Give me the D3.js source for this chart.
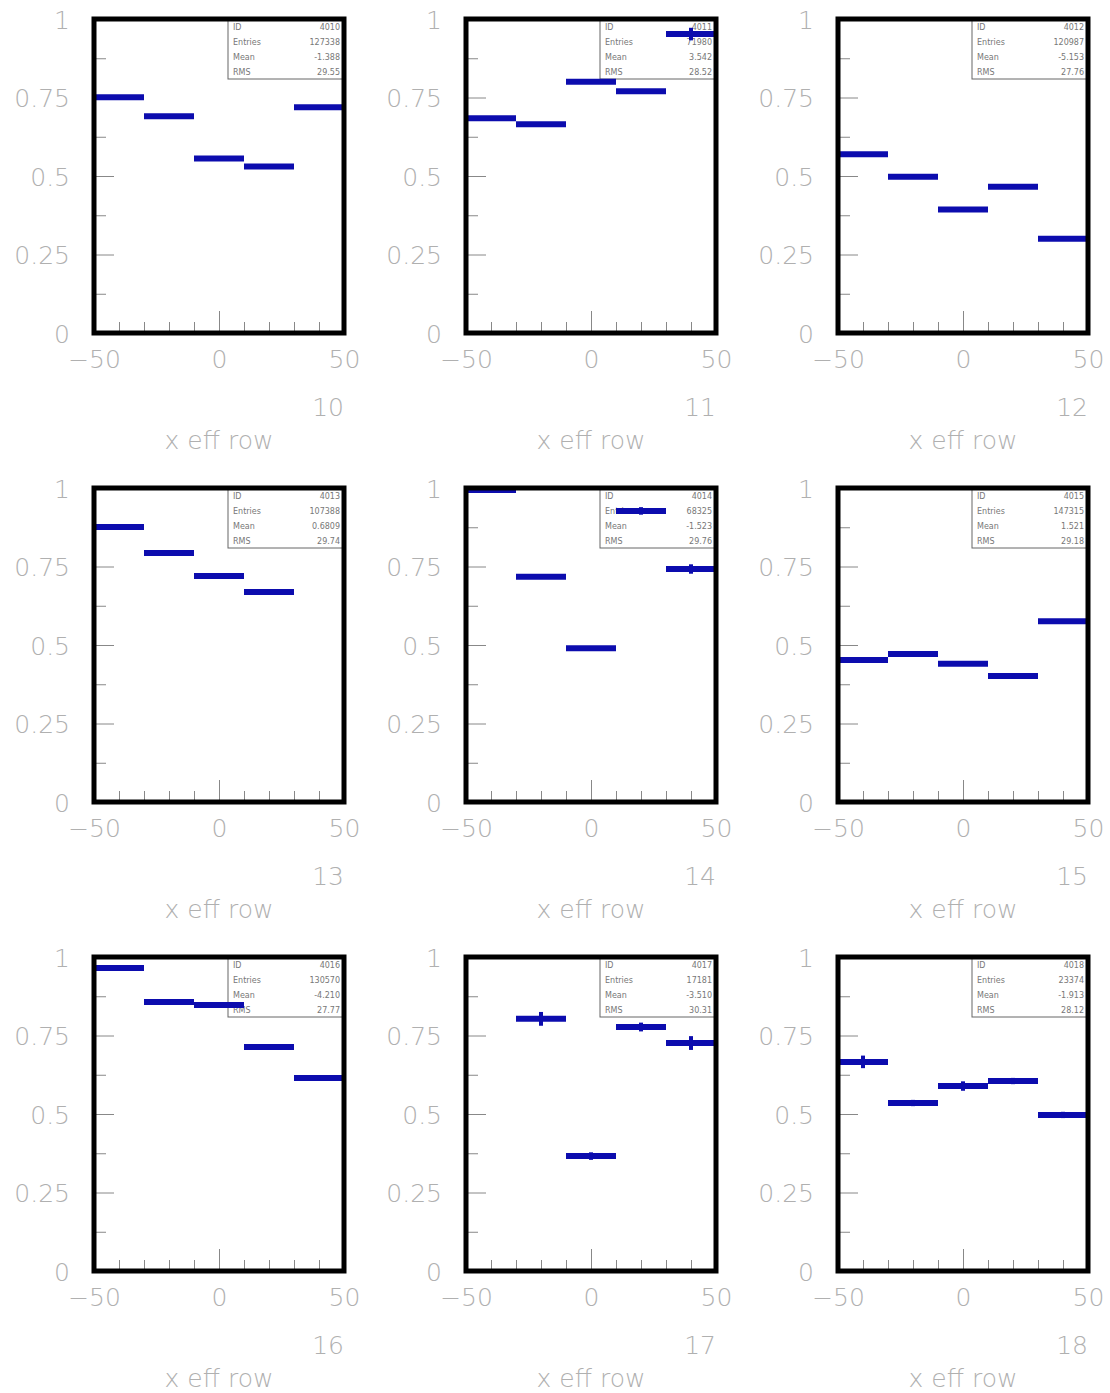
<!DOCTYPE html>
<html>
<head>
<meta charset="utf-8">
<script src="https://cdn.jsdelivr.net/npm/d3@7"></script>
<style>
    body { margin: 0; background: #fff; }
    .lbl { font-family: 'DejaVu Sans', sans-serif; font-weight: 200; fill: #b0b0b0; }
    .stat { font-family: 'DejaVu Sans', sans-serif; font-size: 8px; fill: #777; }
</style>
</head>
<body>
<script>
(function(){

// DATA

    const panelIds = ['10', '11', '12', '13', '14', '15', '16', '17', '18'];
    const histIds = ['4010', '4011', '4012', '4013', '4014', '4015', '4016', '4017', '4018'];
    const entries = ['127338', '71980', '120987', '107388', '68325', '147315', '130570', '17181', '23374'];
    const means = ['-1.388', '3.542', '-5.153', '0.6809', '-1.523', '1.521', '-4.210', '-3.510', '-1.913'];
    const rmsValues = ['29.55', '28.52', '27.76', '29.74', '29.76', '29.18', '27.77', '30.31', '28.12'];

    const binEdges = [-50, -30, -10, 10, 30, 50];

    // efficiency per bin, null = empty bin
    const effValues = [
        [0.751, 0.690, 0.556, 0.530, 0.719],
        [0.684, 0.665, 0.800, 0.770, 0.952],
        [0.569, 0.498, 0.393, 0.466, 0.300],
        [0.876, 0.793, 0.720, 0.669, null],
        [0.994, 0.717, 0.490, 0.927, 0.742],
        [0.452, 0.471, 0.440, 0.401, 0.576],
        [0.965, 0.857, 0.847, 0.713, 0.615],
        [null, 0.803, 0.366, 0.777, 0.726],
        [0.666, 0.535, 0.589, 0.605, 0.497]
    ];
    const effErrors = [
        [0.004, 0.004, 0.004, 0.004, 0.006],
        [0.005, 0.005, 0.006, 0.005, 0.020],
        [0.004, 0.004, 0.004, 0.004, 0.004],
        [0.004, 0.004, 0.004, 0.004, 0],
        [0.010, 0.006, 0.006, 0.012, 0.015],
        [0.004, 0.004, 0.004, 0.004, 0.005],
        [0.004, 0.004, 0.004, 0.004, 0.004],
        [0, 0.022, 0.012, 0.014, 0.022],
        [0.020, 0.010, 0.015, 0.010, 0.010]
    ];

    const yMajor = [0, 0.25, 0.5, 0.75, 1];
    const yMinor = [0.125, 0.375, 0.625, 0.875];
    const xMajor = [-50, 0, 50];
    const xMinor = [-40, -30, -20, -10, 10, 20, 30, 40];
    const statLabels = ['ID', 'Entries', 'Mean', 'RMS'];

// LAYOUT

    const frameWidth = 250,
        frameHeight = 314,
        left0 = 94,
        top0 = 19,
        colStep = 372,
        rowStep = 469,
        barColor = '#0c0cae';

    const svg = d3.select('body')
        .append('svg')
        .attr('width', 1110)
        .attr('height', 1393);

    svg.append('rect')
        .attr('width', 1110)
        .attr('height', 1393)
        .attr('fill', '#fff');

    const x = d3.scaleLinear().domain([-50, 50]).range([0, frameWidth]);
    const y = d3.scaleLinear().domain([0, 1]).range([frameHeight, 0]);

    panelIds.forEach(function(pid, i){
        const col = i % 3,
            row = Math.floor(i / 3);

        const g = svg.append('g')
            .attr('transform', 'translate(' + (left0 + col * colStep) + ',' + (top0 + row * rowStep) + ')');

        drawAxes(g);
        drawStats(g, i);
        drawHist(g, i);

        // frame on top
        g.append('rect')
            .attr('width', frameWidth)
            .attr('height', frameHeight)
            .attr('fill', 'none')
            .attr('stroke', '#000')
            .attr('stroke-width', 5);

        g.append('text')
            .attr('class', 'lbl')
            .attr('x', frameWidth)
            .attr('y', frameHeight + 83)
            .attr('text-anchor', 'end')
            .style('font-size', '25px')
            .text(pid);

        g.append('text')
            .attr('class', 'lbl')
            .attr('x', x(0))
            .attr('y', frameHeight + 116)
            .attr('text-anchor', 'middle')
            .style('font-size', '25px')
            .text('x eff row');
    });


// AXES

function drawAxes(g){
    const yMin = g.append('g')
        .call(d3.axisLeft(y).tickValues(yMinor).tickSize(-12).tickFormat(''));
    const yMaj = g.append('g')
        .call(d3.axisLeft(y).tickValues(yMajor).tickSize(-20).tickPadding(24)
            .tickFormat(function(d){ return d3.format('')(d); }));

    const xMin = g.append('g')
        .attr('transform', 'translate(0,' + frameHeight + ')')
        .call(d3.axisBottom(x).tickValues(xMinor).tickSize(-11).tickFormat(''));
    const xMaj = g.append('g')
        .attr('transform', 'translate(0,' + frameHeight + ')')
        .call(d3.axisBottom(x).tickValues(xMajor).tickSize(-22).tickPadding(17)
            .tickFormat(function(d){ return d < 0 ? '\u2212' + Math.abs(d) : d; }));

    [yMin, yMaj, xMin, xMaj].forEach(function(a){
        a.select('.domain').remove();
        a.selectAll('line').attr('stroke', '#888');
        a.selectAll('text')
            .attr('class', 'lbl')
            .attr('fill', null)
            .style('font-size', '25px');
    });
    yMaj.selectAll('text').attr('dy', '0.36em');
};


// STAT BOX

function drawStats(g, i){
    const boxX = 134,
        boxW = frameWidth - boxX,
        boxH = 60,
        rowH = boxH / 4;
    const vals = [histIds[i], entries[i], means[i], rmsValues[i]];

    g.append('rect')
        .attr('x', boxX)
        .attr('y', 0)
        .attr('width', boxW)
        .attr('height', boxH)
        .attr('fill', '#fff')
        .attr('stroke', '#666')
        .attr('stroke-width', 1);

    statLabels.forEach(function(lab, k){
        g.append('text')
            .attr('class', 'stat')
            .attr('x', boxX + 5)
            .attr('y', rowH * k + rowH / 2 + 3)
            .text(lab);
        g.append('text')
            .attr('class', 'stat')
            .attr('x', frameWidth - 4)
            .attr('y', rowH * k + rowH / 2 + 3)
            .attr('text-anchor', 'end')
            .text(vals[k]);
    });
};


// HISTOGRAM

function drawHist(g, i){
    const bins = effValues[i].map(function(v, k){
        return {lo: binEdges[k], hi: binEdges[k + 1], v: v, e: effErrors[i][k]};
    }).filter(function(d){ return d.v !== null; });

    g.selectAll('.bin')
        .data(bins)
        .enter()
        .append('line')
        .attr('class', 'bin')
        .attr('x1', function(d){ return x(d.lo); })
        .attr('x2', function(d){ return x(d.hi); })
        .attr('y1', function(d){ return y(d.v); })
        .attr('y2', function(d){ return y(d.v); })
        .attr('stroke', barColor)
        .attr('stroke-width', 6);

    g.selectAll('.err')
        .data(bins)
        .enter()
        .append('line')
        .attr('class', 'err')
        .attr('x1', function(d){ return x((d.lo + d.hi) / 2); })
        .attr('x2', function(d){ return x((d.lo + d.hi) / 2); })
        .attr('y1', function(d){ return y(d.v + d.e); })
        .attr('y2', function(d){ return y(d.v - d.e); })
        .attr('stroke', barColor)
        .attr('stroke-width', 4);
};

})();
</script>
</body>
</html>
